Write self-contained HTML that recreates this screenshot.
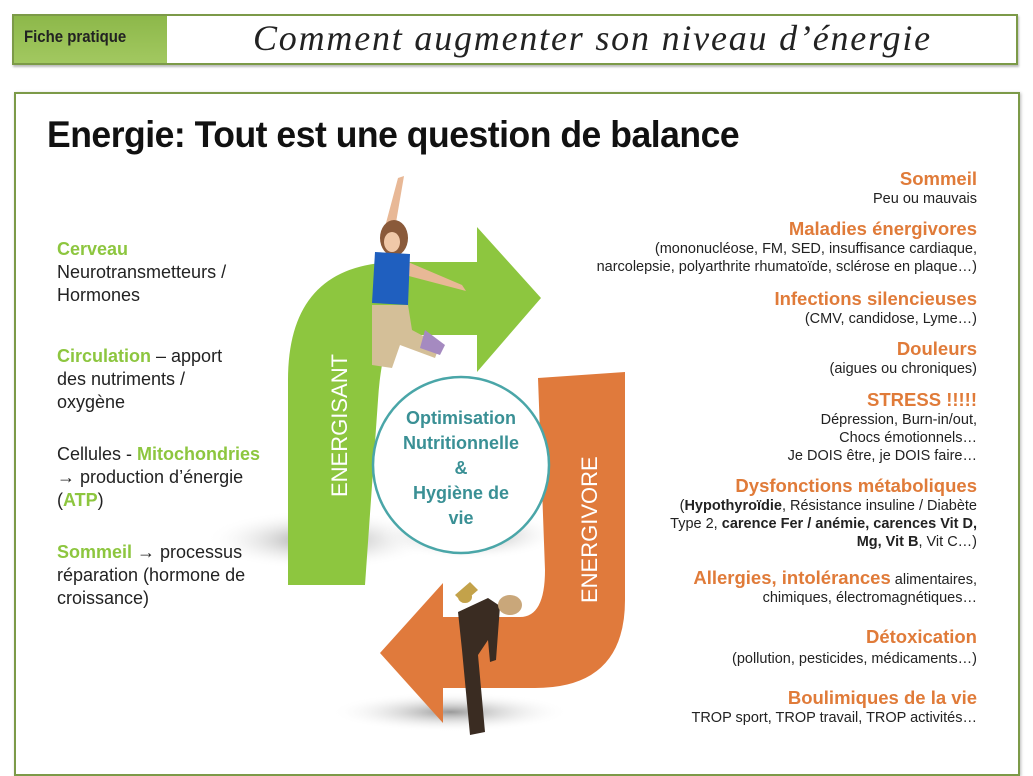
<!DOCTYPE html>
<html><head><meta charset="utf-8"><style>
body{margin:0;width:1033px;height:758px;background:#fff;position:relative;overflow:hidden;font-family:"Liberation Sans",Arial,sans-serif}
.a{position:absolute;white-space:nowrap}
.l{left:57px;font-size:18px;color:#222;line-height:23px}
.g{color:#8dc63f;font-weight:bold}
.r{right:56px;text-align:right;color:#222;font-size:14.5px;line-height:18px}
.h{color:#e07b39;font-weight:bold;font-size:18.5px}
</style></head><body>
<div class="a" style="left:12px;top:14px;width:1002px;height:47px;border:2px solid #7c9a48;box-shadow:1px 2px 2px #bbb"></div>
<div class="a" style="left:14px;top:16px;width:153px;height:47px;background:linear-gradient(#8db84a,#a2c860)"></div>
<div class="a" style="left:24px;top:27px;font-size:17px;font-weight:bold;color:#222;transform:scaleX(0.88);transform-origin:left">Fiche pratique</div>
<div class="a" style="left:253px;top:17px;font-family:'Liberation Serif',serif;font-style:italic;font-size:36px;color:#222;letter-spacing:1.8px">Comment augmenter son niveau d’énergie</div>
<div class="a" style="left:14px;top:92px;width:1002px;height:680px;border:2px solid #7c9a48;box-shadow:1px 1px 3px #bbb"></div>
<div class="a" style="left:47px;top:114px;font-size:37px;font-weight:bold;color:#111;transform:scaleX(0.96);transform-origin:left;letter-spacing:-0.5px">Energie: Tout est une question de balance</div>

<svg class="a" style="left:0;top:0" width="1033" height="758">
<defs><radialGradient id="sh"><stop offset="0" stop-color="#999"/><stop offset="1" stop-color="#fff" stop-opacity="0"/></radialGradient></defs>
<ellipse cx="320" cy="540" rx="115" ry="30" fill="url(#sh)"/>
<ellipse cx="470" cy="535" rx="90" ry="25" fill="url(#sh)"/>
<ellipse cx="450" cy="712" rx="120" ry="20" fill="url(#sh)"/>
<path d="M288,585 L288,380 Q288,262 400,262 L477,262 L477,227 L541,298 L477,372 L477,335 L398,335 Q382,338 378,400 L365,585 Z" fill="#8dc63f"/>
<path d="M538,378 L625,372 L625,600 Q625,688 535,688 L443,688 L443,723 L380,653 L443,583 L443,617 L520,617 Q545,617 545,570 Z" fill="#e07a3c"/>
<circle cx="461" cy="465" r="88" fill="#fff" stroke="#4aa6a8" stroke-width="2.5"/>
<path d="M382,238 L398,178 L404,176 L393,240 Z" fill="#e8b896"/>
<path d="M408,262 L462,285 L466,291 L405,275 Z" fill="#e8b896"/>
<ellipse cx="394" cy="238" rx="14" ry="18" fill="#8a5a3a"/>
<ellipse cx="392" cy="242" rx="8" ry="10" fill="#f0c8a8"/>
<path d="M375,252 L410,254 L408,305 L372,303 Z" fill="#1f5fbf"/>
<path d="M372,305 L408,305 L412,330 L440,345 L435,358 L400,345 L392,368 L372,365 Z" fill="#d4bf98"/>
<path d="M425,330 L445,345 L440,355 L420,348 Z" fill="#a58ac0"/>
<path d="M455,595 L470,582 L478,590 L463,603 Z" fill="#c3a24a"/>
<ellipse cx="465" cy="597" rx="7" ry="6" fill="#c3a24a"/>
<path d="M458,612 L488,598 L500,606 L496,660 L490,662 L488,640 L478,655 L485,732 L470,735 L462,650 Z" fill="#3a2c22"/>
<ellipse cx="510" cy="605" rx="12" ry="10" fill="#c9a77a"/>
</svg>
<div class="a" style="left:371px;top:406px;width:180px;text-align:center;color:#3a9095;font-weight:bold;font-size:18px;line-height:25px">Optimisation<br>Nutritionnelle<br>&amp;<br>Hygiène de<br>vie</div>
<div class="a" style="left:280px;top:424px;width:120px;text-align:center;color:#fff;font-size:22px;transform:rotate(-90deg)">ENERGISANT</div>
<div class="a" style="left:530px;top:530px;width:120px;text-align:center;color:#fff;font-size:22px;transform:rotate(-90deg)">ENERGIVORE</div>

<div class="a l" style="top:238px"><span class="g">Cerveau</span><br>Neurotransmetteurs /<br>Hormones</div>
<div class="a l" style="top:345px"><span class="g">Circulation</span> – apport<br>des nutriments /<br>oxygène</div>
<div class="a l" style="top:443px">Cellules - <span class="g">Mitochondries</span><br>→ production d’énergie<br>(<span class="g">ATP</span>)</div>
<div class="a l" style="top:541px"><span class="g">Sommeil</span> → processus<br>réparation (hormone de<br>croissance)</div>

<div class="a r" style="top:170px"><span class="h">Sommeil</span><br>Peu ou mauvais</div>
<div class="a r" style="top:220px"><span class="h">Maladies énergivores</span><br>(mononucléose, FM, SED, insuffisance cardiaque,<br>narcolepsie, polyarthrite rhumatoïde, sclérose en plaque…)</div>
<div class="a r" style="top:290px"><span class="h">Infections silencieuses</span><br>(CMV, candidose, Lyme…)</div>
<div class="a r" style="top:340px"><span class="h">Douleurs</span><br>(aigues ou chroniques)</div>
<div class="a r" style="top:391px"><span class="h">STRESS !!!!!</span><br>Dépression, Burn-in/out,<br>Chocs émotionnels…<br>Je DOIS être, je DOIS faire…</div>
<div class="a r" style="top:477px"><span class="h">Dysfonctions métaboliques</span><br>(<b>Hypothyroïdie</b>, Résistance insuline / Diabète<br>Type 2, <b>carence Fer / anémie, carences Vit D,</b><br><b>Mg, Vit B</b>, Vit C…)</div>
<div class="a r" style="top:569px"><span class="h">Allergies, intolérances</span> alimentaires,<br>chimiques, électromagnétiques…</div>
<div class="a r" style="top:627px;line-height:20px"><span class="h">Détoxication</span><br>(pollution, pesticides, médicaments…)</div>
<div class="a r" style="top:689px"><span class="h">Boulimiques de la vie</span><br>TROP sport, TROP travail, TROP activités…</div>
</body></html>
